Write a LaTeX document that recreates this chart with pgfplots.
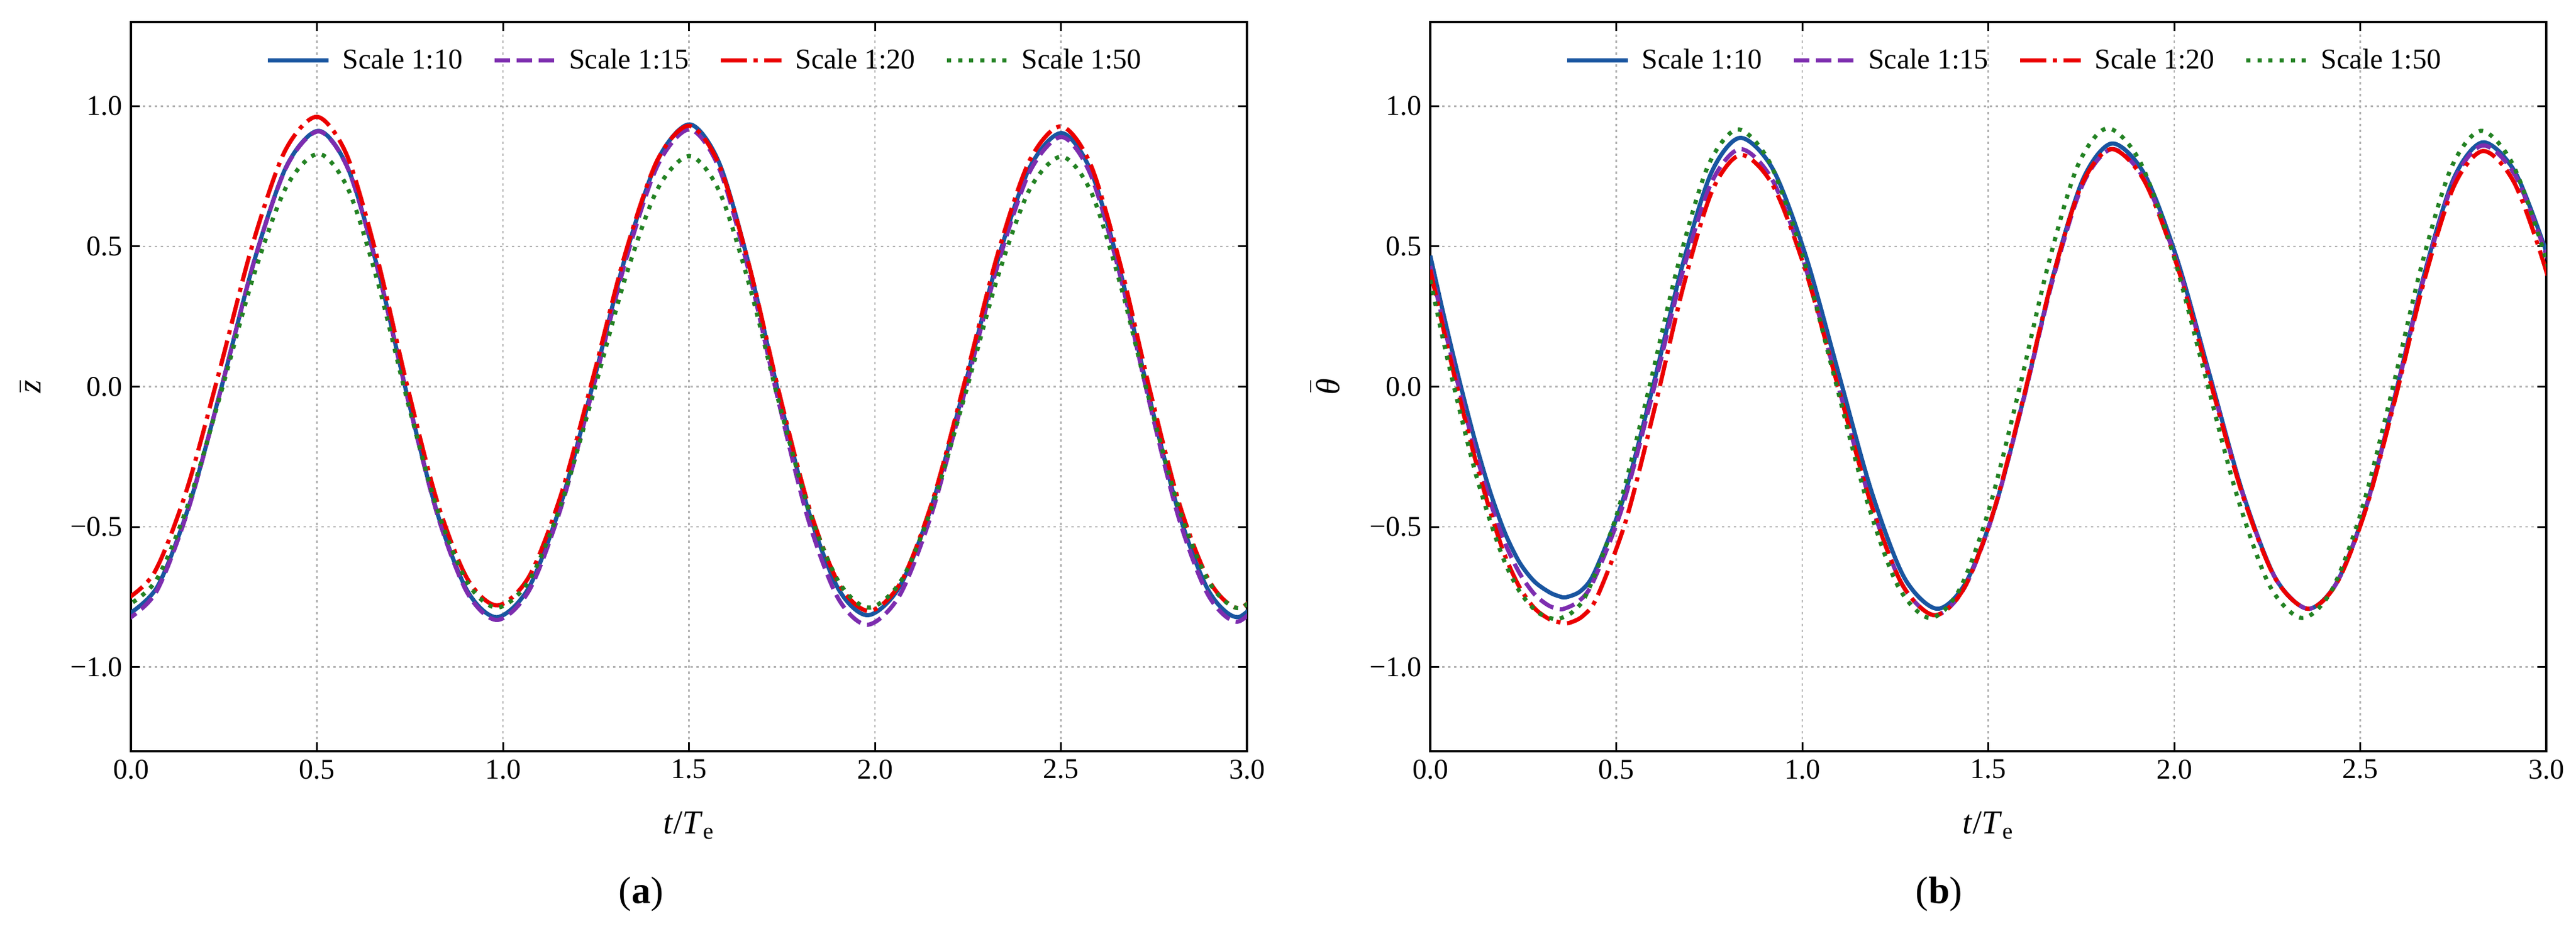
\documentclass[border=0pt]{standalone}
\usepackage{fontspec}
\setmainfont{Liberation Serif}
\usepackage{pgfplots}
\pgfplotsset{compat=1.18}
\definecolor{cblue}{RGB}{25,85,160}
\definecolor{cpurple}{RGB}{125,45,175}
\definecolor{cred}{RGB}{235,0,0}
\definecolor{cgreen}{RGB}{35,130,35}
\pgfplotsset{
  myaxis/.style={
    scale only axis, width=468.75pt, height=306.25pt,
    xmin=0,xmax=3,ymin=-1.3,ymax=1.3,
    xtick={0,0.5,1,1.5,2,2.5,3},
    xticklabels={0.0,0.5,1.0,1.5,2.0,2.5,3.0},
    ytick={-1,-0.5,0,0.5,1},
    yticklabels={−1.0,−0.5,0.0,0.5,1.0},
    tick align=inside,
    major tick length=3.75pt,
    major tick style={black, line width=0.75pt},
    axis line style={black, line width=0.9pt},
    grid=major,
    major grid style={black!30, line width=0.6pt, dash pattern=on 0.9pt off 1.6pt},
    tick label style={font=\fontsize{12}{14}\selectfont},
    label style={font=\fontsize{14}{16}\selectfont},
    x label style={at={(axis description cs:0.5,0)},anchor=center,yshift=-31.25pt},
    xlabel={\textit{t}/\textit{T}\textsubscript{e}},
    legend columns=4,
    legend style={at={(0.5133,0.947)},anchor=center,draw=none,fill=none,
      font=\fontsize{12}{14}\selectfont, nodes={inner sep=0pt},
      /tikz/every odd column/.append style={column sep=5pt},
      /tikz/every even column/.append style={column sep=12.5pt}},
    legend image code/.code={\draw[##1] (0pt,0pt) -- (25.5pt,0pt);},
  },
  s10/.style={cblue, line width=1.75pt, smooth},
  s15/.style={cpurple, line width=1.75pt, smooth, dash pattern=on 6.5pt off 2.8pt},
  s20/.style={cred, line width=1.75pt, smooth, dash pattern=on 11pt off 2.8pt on 1.75pt off 2.8pt},
  s50/.style={cgreen, line width=1.75pt, smooth, dash pattern=on 1.75pt off 2.9pt},
}
\begin{document}
\begin{tikzpicture}
\path[use as bounding box] (0,0) rectangle (1082pt,391pt);
\begin{axis}[myaxis, at={(55pt,75.5pt)}, anchor=south west,
  ylabel={$\bar{\mbox{\itshape z}}$},
  y label style={at={(axis description cs:-0.0896,0.5)},anchor=center}]
\addplot[s10] coordinates {(-0.016,-0.82)(0.0708,-0.714)(0.1577,-0.418)(0.2445,0.004)(0.3313,0.448)(0.4182,0.786)(0.505,0.912)(0.5848,0.774)(0.6647,0.414)(0.7445,-0.042)(0.8243,-0.454)(0.9042,-0.728)(0.984,-0.822)(1.0703,-0.715)(1.1567,-0.414)(1.243,0.014)(1.3293,0.464)(1.4157,0.807)(1.502,0.935)(1.5818,0.796)(1.6617,0.432)(1.7415,-0.028)(1.8213,-0.443)(1.9012,-0.720)(1.981,-0.815)(2.0678,-0.710)(2.1547,-0.416)(2.2415,0.003)(2.3283,0.443)(2.4152,0.779)(2.502,0.904)(2.581,0.767)(2.660,0.408)(2.739,-0.045)(2.818,-0.455)(2.897,-0.728)(2.976,-0.822)(3.06,-0.715)};
\addlegendentry{Scale 1:10}
\addplot[s15] coordinates {(-0.02,-0.84)(0.0675,-0.733)(0.155,-0.434)(0.2425,-0.007)(0.33,0.441)(0.4175,0.782)(0.505,0.91)(0.585,0.772)(0.665,0.409)(0.745,-0.048)(0.825,-0.462)(0.905,-0.737)(0.985,-0.832)(1.0712,-0.725)(1.1573,-0.426)(1.2435,0.001)(1.3297,0.448)(1.4158,0.789)(1.502,0.917)(1.5817,0.777)(1.6613,0.409)(1.741,-0.054)(1.8207,-0.474)(1.9003,-0.753)(1.98,-0.849)(2.067,-0.743)(2.154,-0.446)(2.241,-0.021)(2.328,0.424)(2.415,0.763)(2.502,0.89)(2.5808,0.753)(2.6597,0.393)(2.7385,-0.060)(2.8173,-0.471)(2.8962,-0.744)(2.975,-0.838)(3.06,-0.729)};
\addlegendentry{Scale 1:15}
\addplot[s20] coordinates {(-0.025,-0.77)(0.0625,-0.664)(0.15,-0.368)(0.2375,0.054)(0.325,0.498)(0.4125,0.836)(0.5,0.962)(0.5808,0.824)(0.6617,0.461)(0.7425,0.004)(0.8233,-0.410)(0.9042,-0.685)(0.985,-0.78)(1.0708,-0.676)(1.1567,-0.383)(1.2425,0.034)(1.3283,0.472)(1.4142,0.805)(1.5,0.93)(1.5808,0.792)(1.6617,0.433)(1.7425,-0.022)(1.8233,-0.432)(1.9042,-0.706)(1.985,-0.80)(2.0708,-0.695)(2.1567,-0.399)(2.2425,0.023)(2.3283,0.465)(2.4142,0.802)(2.5,0.928)(2.58,0.791)(2.66,0.434)(2.74,-0.017)(2.82,-0.425)(2.90,-0.696)(2.98,-0.79)(3.06,-0.682)};
\addlegendentry{Scale 1:20}
\addplot[s50] coordinates {(-0.02,-0.79)(0.0675,-0.691)(0.155,-0.414)(0.2425,-0.019)(0.33,0.396)(0.4175,0.712)(0.505,0.83)(0.585,0.701)(0.665,0.365)(0.745,-0.060)(0.825,-0.444)(0.905,-0.700)(0.985,-0.788)(1.0712,-0.690)(1.1573,-0.415)(1.2435,-0.022)(1.3297,0.391)(1.4158,0.705)(1.502,0.822)(1.5825,0.694)(1.663,0.359)(1.7435,-0.064)(1.824,-0.446)(1.9045,-0.700)(1.985,-0.788)(2.0712,-0.690)(2.1573,-0.415)(2.2435,-0.023)(2.3297,0.389)(2.4158,0.703)(2.502,0.82)(2.5817,0.692)(2.6613,0.357)(2.741,-0.066)(2.8207,-0.448)(2.9003,-0.702)(2.98,-0.79)(3.06,-0.689)};
\addlegendentry{Scale 1:50}
\end{axis}
\begin{axis}[myaxis, at={(600.75pt,75.5pt)}, anchor=south west,
  ylabel={$\bar{\mbox{\itshape θ}}$},
  y label style={at={(axis description cs:-0.0939,0.5)},anchor=center}]
\addplot[s10] coordinates {(0,0.467)(0.04,0.233)(0.08,0.013)(0.12,-0.191)(0.16,-0.371)(0.2,-0.519)(0.24,-0.627)(0.28,-0.695)(0.32,-0.733)(0.345,-0.747)(0.365,-0.751)(0.405,-0.728)(0.443,-0.658)(0.521,-0.391)(0.599,0.003)(0.677,0.428)(0.755,0.761)(0.833,0.887)(0.9212,0.775)(1.0093,0.467)(1.0975,0.048)(1.1857,-0.372)(1.2738,-0.680)(1.362,-0.792)(1.4405,-0.697)(1.519,-0.427)(1.5975,-0.029)(1.676,0.403)(1.7545,0.739)(1.833,0.867)(1.9207,0.756)(2.0083,0.452)(2.096,0.038)(2.1837,-0.377)(2.2713,-0.681)(2.359,-0.792)(2.4375,-0.697)(2.516,-0.426)(2.5945,-0.027)(2.673,0.405)(2.7515,0.743)(2.83,0.871)(2.9183,0.760)(3.0067,0.456)};
\addlegendentry{Scale 1:10}
\addplot[s15] coordinates {(0,0.43)(0.04,0.20)(0.08,-0.02)(0.12,-0.225)(0.16,-0.405)(0.2,-0.555)(0.24,-0.665)(0.28,-0.74)(0.315,-0.778)(0.337,-0.79)(0.357,-0.793)(0.397,-0.767)(0.4363,-0.700)(0.5157,-0.432)(0.595,-0.039)(0.6743,0.388)(0.7537,0.721)(0.833,0.847)(0.92,0.736)(1.007,0.432)(1.094,0.016)(1.181,-0.400)(1.268,-0.704)(1.355,-0.815)(1.4347,-0.720)(1.5143,-0.449)(1.594,-0.051)(1.6737,0.382)(1.7533,0.719)(1.833,0.847)(1.9207,0.737)(2.0083,0.437)(2.096,0.028)(2.1837,-0.382)(2.2713,-0.682)(2.359,-0.792)(2.4375,-0.698)(2.516,-0.429)(2.5945,-0.032)(2.673,0.397)(2.7515,0.733)(2.83,0.86)(2.9183,0.749)(3.0067,0.445)};
\addlegendentry{Scale 1:15}
\addplot[s20] coordinates {(0,0.417)(0.04,0.178)(0.08,-0.045)(0.12,-0.255)(0.16,-0.44)(0.2,-0.6)(0.24,-0.715)(0.28,-0.79)(0.32,-0.829)(0.35,-0.841)(0.372,-0.843)(0.41,-0.818)(0.4492,-0.748)(0.5263,-0.476)(0.6035,-0.075)(0.6807,0.359)(0.7578,0.698)(0.835,0.826)(0.9217,0.716)(1.0083,0.416)(1.095,0.006)(1.1817,-0.405)(1.2683,-0.705)(1.355,-0.815)(1.4342,-0.720)(1.5133,-0.449)(1.5925,-0.051)(1.6717,0.382)(1.7508,0.719)(1.83,0.847)(1.9182,0.737)(2.0063,0.437)(2.0945,0.028)(2.1827,-0.382)(2.2708,-0.682)(2.359,-0.792)(2.4375,-0.699)(2.516,-0.433)(2.5945,-0.041)(2.673,0.383)(2.7515,0.714)(2.83,0.84)(2.9128,0.730)(2.9957,0.43)(3.0785,0.02)};
\addlegendentry{Scale 1:20}
\addplot[s50] coordinates {(0,0.38)(0.04,0.135)(0.08,-0.09)(0.12,-0.3)(0.16,-0.475)(0.2,-0.625)(0.24,-0.73)(0.28,-0.795)(0.305,-0.817)(0.325,-0.826)(0.343,-0.829)(0.383,-0.803)(0.4235,-0.730)(0.504,-0.445)(0.5845,-0.026)(0.665,0.428)(0.7455,0.783)(0.826,0.917)(0.912,0.800)(0.998,0.482)(1.084,0.046)(1.17,-0.390)(1.256,-0.708)(1.342,-0.825)(1.4217,-0.726)(1.5013,-0.441)(1.581,-0.022)(1.6607,0.432)(1.7403,0.787)(1.82,0.921)(1.9072,0.804)(1.9943,0.485)(2.0815,0.048)(2.1687,-0.389)(2.2558,-0.708)(2.343,-0.825)(2.4232,-0.726)(2.5033,-0.443)(2.5835,-0.026)(2.6637,0.426)(2.7438,0.778)(2.824,0.912)(2.909,0.795)(2.994,0.477)(3.079,0.042)};
\addlegendentry{Scale 1:50}
\end{axis}
\node[font=\fontsize{16}{18}\selectfont] at (269.25pt,15.5pt) {(\textbf{a})};
\node[font=\fontsize{16}{18}\selectfont] at (814.5pt,15.5pt) {(\textbf{b})};
\end{tikzpicture}
\end{document}
